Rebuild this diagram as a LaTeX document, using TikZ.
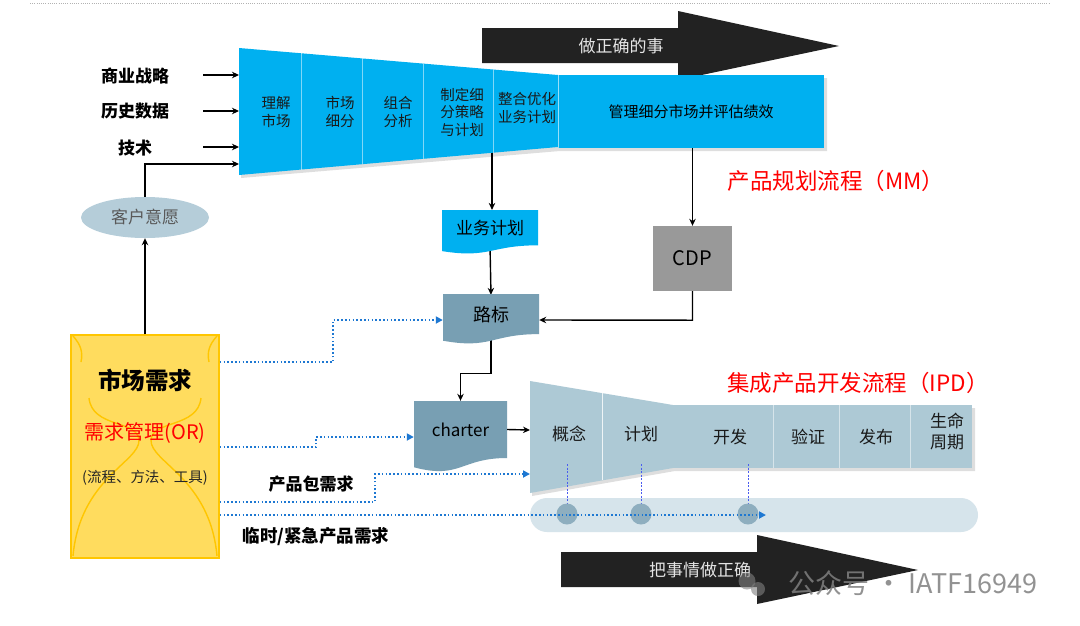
\documentclass[tikz,border=0pt]{standalone}
\usepackage{fontspec}
\setmainfont{Noto Sans CJK SC}
\usetikzlibrary{arrows.meta,shapes.geometric,calc}
\definecolor{mmblue}{HTML}{00B0F0}
\definecolor{steel}{HTML}{789FB3}
\definecolor{ipdc}{HTML}{ADC9D5}
\definecolor{ellc}{HTML}{B5CDD9}
\definecolor{pillc}{HTML}{D6E4EB}
\definecolor{circc}{HTML}{8EAEBF}
\definecolor{yfill}{HTML}{FFDC5E}
\definecolor{yline}{HTML}{FFC600}
\definecolor{cdpc}{HTML}{999999}
\definecolor{dotblue}{HTML}{1E78D2}
\definecolor{darkarr}{HTML}{222222}
\definecolor{dashb}{HTML}{4A5CF0}
\pgfdeclarelayer{bg}
\pgfsetlayers{bg,main}
\begin{document}
\begin{tikzpicture}[x=1pt,y=-1pt,
  lab/.style={font=\bfseries\fontsize{17}{20}\selectfont, inner sep=0pt},
  fun/.style={font=\fontsize{14.5}{17.5}\selectfont, align=center, inner sep=0pt, text=black!90},
  ipdt/.style={font=\fontsize{17}{21}\selectfont, align=center, inner sep=0pt, text=black!90},
  arr/.style={-{Stealth[length=7pt,width=6.5pt]}, line width=1.4pt, black},
  dotarr/.style={-{Triangle[length=7pt,width=7pt]}, line width=1.8pt, dotblue, dash pattern=on 1.6pt off 2.2pt},
  redt/.style={font=\fontsize{22.5}{26}\selectfont, text=red, inner sep=0pt},
  docn/.style={inner sep=0pt, draw=none},
  shd/.style={black, opacity=0.13},
  divl/.style={white, opacity=0.5, line width=0.6pt}
]
\useasboundingbox (0,0) rectangle (1080,625);
\begin{pgfonlayer}{bg}
\fill[white] (0,0) rectangle (1080,625);
\end{pgfonlayer}
\draw[black!30, line width=0.8pt, dash pattern=on 1pt off 1.2pt] (30,3) -- (1050,3);

% ---- top black arrow
\fill[darkarr] (482,28) -- (678,28) -- (678,11) -- (839,46) -- (678,80) -- (678,63) -- (482,63) -- cycle;
\node[font=\fontsize{17}{20}\selectfont, text=black!10, inner sep=0pt] (dor) at (621,46) {做正确的事};

% ---- MM funnel (with soft shadow)
\fill[shd] (241,51) -- (560,78) -- (827,78) -- (827,151) -- (560,151) -- (241,178) -- cycle;
\fill[mmblue] (239,48) -- (558,75) -- (558,147) -- (239,175) -- cycle;
\draw[divl] (301,53.2) -- (301,169.6);
\draw[divl] (362,58.4) -- (362,164.2);
\draw[divl] (423,63.6) -- (423,158.8);
\draw[divl] (493,69.5) -- (493,152.7);
\coordinate (fin1) at (239,75);
\coordinate (fin2) at (239,111);
\coordinate (fin3) at (239,147);
\coordinate (fin4) at (239,164);
\coordinate (fout) at (492,140);
\node[fun] (f1) at (276,112) {理解\\市场};
\node[fun] (f2) at (340,112) {市场\\细分};
\node[fun] (f3) at (398,112) {组合\\分析};
\node[fun] (f4) at (462,112) {制定细\\分策略\\与计划};
\node[fun] (f5) at (527,108) {整合优化\\业务计划};
\node[fill=mmblue, minimum width=266pt, minimum height=73pt, inner sep=0pt, font=\fontsize{15}{18}\selectfont] (mgmt) at (691,111.5) {管理细分市场并评估绩效};
\draw[white, opacity=0.6, line width=0.6pt] (558,75) -- (558,148);

\node[redt] (mmt) at (836,181) {产品规划流程（MM）};

% ---- left labels
\node[lab] (s1) at (135,76) {商业战略};
\node[lab] (s2) at (135,111) {历史数据};
\node[lab] (s3) at (135,148) {技术};
\coordinate (a1) at (203,75);
\coordinate (a2) at (203,111);
\coordinate (a3) at (203,147);
\draw[arr] (a1) -- (fin1);
\draw[arr] (a2) -- (fin2);
\draw[arr] (a3) -- (fin3);

% ---- ellipse
\node[ellipse, fill=ellc, minimum width=128pt, minimum height=41pt, inner sep=0pt, font=\fontsize{17}{20}\selectfont, text=black!65] (will) at (145,217.5) {客户意愿};
\draw[arr] (will.north) -- (will.north |- fin4) -- (fin4);

% ---- yellow box
\node[draw=yline, fill=yfill, line width=1.5pt, minimum width=148pt, minimum height=223pt, inner sep=0pt] (mkt) at (145,446.5) {};
\begin{scope}[yline, line width=1.4pt]
\draw (73,336) .. controls (81,345) and (83,352) .. (81,362);
\draw (217,336) .. controls (209,345) and (207,352) .. (209,362);
\draw (89,398) .. controls (92,428) and (138,420) .. (139,440) .. controls (140,462) and (80,478) .. (73,556);
\draw (201,398) .. controls (198,428) and (152,420) .. (151,440) .. controls (150,462) and (210,478) .. (217,556);
\end{scope}
\node[font=\bfseries\fontsize{23.5}{27}\selectfont, inner sep=0pt] (mkt1) at (145,380) {市场需求};
\node[font=\fontsize{20}{24}\selectfont, text=red, inner sep=0pt] (mkt2) at (145,433) {需求管理(OR)};
\node[font=\fontsize{14.5}{17}\selectfont, text=black!85, inner sep=0pt] (mkt3) at (145,478) {(流程、方法、工具)};
\draw[arr] (mkt.north) -- (will.south);

% ---- document shapes
\fill[mmblue] (442,210) -- (538,210) -- (538,245.3) .. controls (490,245.3) and (490,258.7) .. (442,251.1) -- cycle;
\node[docn, minimum width=96pt, minimum height=35pt, font=\fontsize{17}{20}\selectfont] (biz) at (490,227.6) {业务计划};
\fill[steel] (443,294) -- (539,294) -- (539,334.1) .. controls (491,334.1) and (491,349.4) .. (443,340.7) -- cycle;
\node[docn, minimum width=96pt, minimum height=40pt, font=\fontsize{18}{21}\selectfont] (rm) at (491,315) {路标};
\fill[steel] (414,401) -- (507,401) -- (507,458) .. controls (460.5,458) and (460.5,479.6) .. (414,467.3) -- cycle;
\node[docn, minimum width=93pt, minimum height=57pt, font=\fontsize{17}{20}\selectfont] (ch) at (460.5,429.5) {charter};

% ---- CDP
\node[fill=cdpc, minimum width=79pt, minimum height=65pt, inner sep=0pt, font=\fontsize{20}{24}\selectfont] (cdp) at (692.5,258.5) {CDP};

% ---- IPD funnel (with soft shadow)
\fill[shd] (532,384) -- (675,408) -- (975,408) -- (975,471) -- (675,471) -- (532,496) -- cycle;
\fill[ipdc] (530,381) -- (673,405) -- (673,468) -- (530,493) -- cycle;
\draw[white, opacity=0.8, line width=0.8pt] (602,393) -- (602,480);
\node[fill=ipdc, minimum width=299pt, minimum height=63pt, inner sep=0pt] (ipdr) at (822.5,436.5) {};
\draw[divl] (773,405) -- (773,468);
\draw[divl] (839,405) -- (839,468);
\draw[divl] (910,405) -- (910,468);
\coordinate (ipdin) at (530,430);
\coordinate (ipdin2) at (530,474);
\node[ipdt] (p1) at (569,434) {概念};
\node[ipdt] (p2) at (641,434) {计划};
\node[ipdt] (p3) at (730,437) {开发};
\node[ipdt] (p4) at (808,437) {验证};
\node[ipdt] (p5) at (876,437) {发布};
\node[ipdt] (p6) at (947,431) {生命\\周期};
\node[redt] (ipdt) at (858,383) {集成产品开发流程（IPD）};

% ---- pill, milestones
\fill[pillc, rounded corners=17pt] (530,498) rectangle (978,532);
\draw[dashb, line width=0.8pt, dash pattern=on 2pt off 1.5pt] (567,464) -- (567,505);
\draw[dashb, line width=0.8pt, dash pattern=on 2pt off 1.5pt] (641,464) -- (641,505);
\draw[dashb, line width=0.8pt, dash pattern=on 2pt off 1.5pt] (748,464) -- (748,505);
\node[circle, fill=circc, minimum size=21pt, inner sep=0pt] (m1) at (567,514) {};
\node[circle, fill=circc, minimum size=21pt, inner sep=0pt] (m2) at (641,514) {};
\node[circle, fill=circc, minimum size=21pt, inner sep=0pt] (m3) at (748,514) {};
\coordinate (lend) at (766,515);

% ---- bottom black arrow
\fill[darkarr] (561,552) -- (757,552) -- (757,535) -- (918,570) -- (757,604) -- (757,587) -- (561,587) -- cycle;
\node[font=\fontsize{17}{20}\selectfont, text=black!10, inner sep=0pt] (dor2) at (700,570) {把事情做正确};

% ---- labels
\node[lab] (lb1) at (311,484) {产品包需求};
\node[lab, font=\bfseries\fontsize{17.5}{20}\selectfont] (lb2) at (316,537) {临时/紧急产品需求};

% ---- connectors (behind shapes)
\begin{pgfonlayer}{bg}
\draw[arr] (fout) -- (fout |- biz.north);
\draw[arr] (biz.south) -- (rm.north);
\draw[arr] (mgmt.south -| cdp.north) -- (cdp.north);
\draw[arr] (cdp.south) -- ++(0,29) -- (rm.east |- 0,320);
\draw[arr] (rm.south) -- ++(0,38) -| (ch.north);
\end{pgfonlayer}
\draw[arr] (ch.east) -- (ipdin);

% ---- dotted blue connectors
\draw[dotarr] (mkt.east |- 0,362) -- (333,362) -- (333,320) -- (rm.west |- 0,320);
\draw[dotarr] (mkt.east |- 0,447) -- (316,447) -- (316,437) -- (ch.west |- 0,437);
\draw[dotarr] (mkt.east |- 0,502) -- (375,502) -- (375,474) -- (ipdin2);
\draw[dotarr] (mkt.east |- 0,515) -- (lend);

% ---- watermark
\fill[black!50, opacity=0.6] (747,581) circle (8.5pt);
\fill[black!50, opacity=0.6] (758,589) circle (7pt);
\node[font=\fontsize{27}{30}\selectfont, text=black!50, opacity=0.85, inner sep=0pt] (wm) at (913,583) {公众号 · IATF16949};
\end{tikzpicture}
\end{document}
